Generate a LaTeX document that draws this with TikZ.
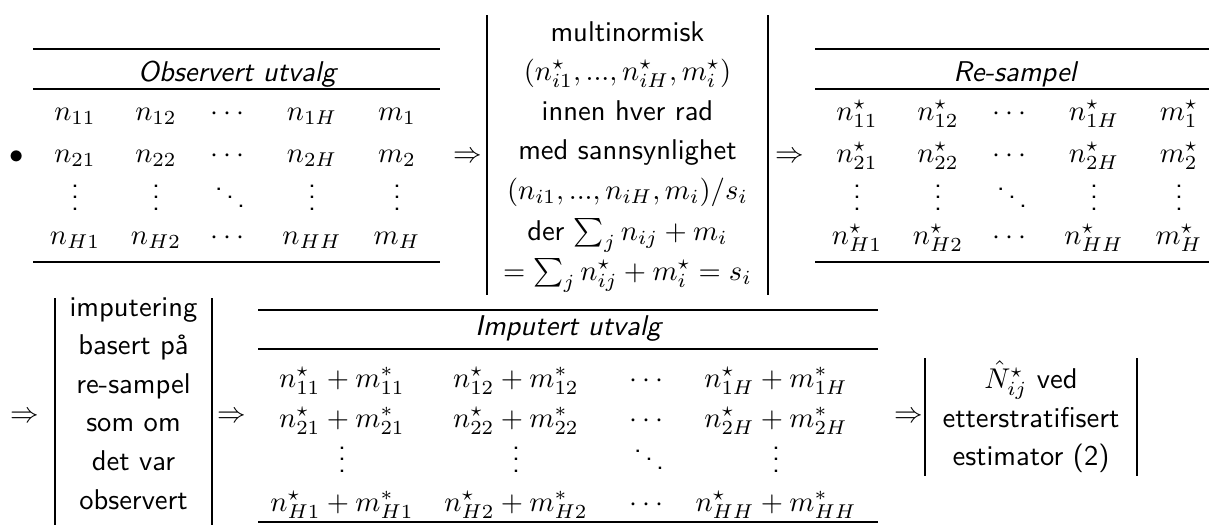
\documentclass[tikz,border=0pt]{standalone}
\usepackage{amsmath}
\begin{document}
\begin{tikzpicture}[x=0.35pt,y=-0.35pt,
  txt/.style={inner sep=0pt,anchor=base,font=\sffamily},
  hdr/.style={inner sep=0pt,anchor=base,font=\sffamily\itshape},
  sym/.style={inner sep=0pt,anchor=center},
  hrule/.style={line width=0.9pt},
  lbar/.style={line width=0.6pt},
  rbar/.style={line width=0.95pt}]
\useasboundingbox (0,0) rectangle (1209,525);

% ---------- top row ----------
\node[sym] (bul) at (17,157) {$\bullet$};

% table 1
\draw[hrule] (33,49) -- (440,49);
\draw[hrule] (33,89) -- (440,89);
\draw[hrule] (33,262) -- (440,262);
\node[hdr] (t1h) at (237,81) {Observert utvalg};
\node[txt] (a11) at (75,120) {$n_{11}$};
\node[txt] (a12) at (156,120) {$n_{12}$};
\node[txt] (a13) at (230,120) {$\cdots$};
\node[txt] (a14) at (312,120) {$n_{1H}$};
\node[txt] (a15) at (397,120) {$m_1$};
\node[txt] (a21) at (75,162) {$n_{21}$};
\node[txt] (a22) at (156,162) {$n_{22}$};
\node[txt] (a23) at (230,162) {$\cdots$};
\node[txt] (a24) at (312,162) {$n_{2H}$};
\node[txt] (a25) at (397,162) {$m_2$};
\node[txt] (a31) at (75,210) {$\vdots$};
\node[txt] (a32) at (156,210) {$\vdots$};
\node[txt] (a33) at (230,210) {$\ddots$};
\node[txt] (a34) at (312,210) {$\vdots$};
\node[txt] (a35) at (397,210) {$\vdots$};
\node[txt] (a41) at (75,244) {$n_{H1}$};
\node[txt] (a42) at (156,244) {$n_{H2}$};
\node[txt] (a43) at (230,244) {$\cdots$};
\node[txt] (a44) at (312,244) {$n_{HH}$};
\node[txt] (a45) at (397,244) {$m_H$};

\node[sym] (arr1) at (468,157) {$\Rightarrow$};

% middle box
\draw[lbar] (487,15) -- (487,295);
\draw[rbar] (768,15) -- (768,295);
\node[txt] (m1) at (627.5,41) {multinormisk};
\node[txt] (m2) at (627.5,80) {$(n^\star_{i1},...,n^\star_{iH},m^\star_i)$};
\node[txt] (m3) at (627.5,120) {innen hver rad};
\node[txt] (m4) at (627.5,159) {med sannsynlighet};
\node[txt] (m5) at (627.5,199) {$(n_{i1},...,n_{iH},m_i)/s_i$};
\node[txt] (m6) at (627.5,240) {der $\sum_j n_{ij}+m_i$};
\node[txt] (m7) at (627.5,280) {$=\sum_j n^\star_{ij}+m^\star_i=s_i$};

\node[sym] (arr2) at (790,157) {$\Rightarrow$};

% table 2
\draw[hrule] (815,49) -- (1209,49);
\draw[hrule] (815,89) -- (1209,89);
\draw[hrule] (815,262) -- (1209,262);
\node[hdr] (t2h) at (1015,81) {Re-sampel};
\node[txt] (b11) at (857,120) {$n^\star_{11}$};
\node[txt] (b12) at (938,120) {$n^\star_{12}$};
\node[txt] (b13) at (1012,120) {$\cdots$};
\node[txt] (b14) at (1094,120) {$n^\star_{1H}$};
\node[txt] (b15) at (1179,120) {$m^\star_1$};
\node[txt] (b21) at (857,162) {$n^\star_{21}$};
\node[txt] (b22) at (938,162) {$n^\star_{22}$};
\node[txt] (b23) at (1012,162) {$\cdots$};
\node[txt] (b24) at (1094,162) {$n^\star_{2H}$};
\node[txt] (b25) at (1179,162) {$m^\star_2$};
\node[txt] (b31) at (857,210) {$\vdots$};
\node[txt] (b32) at (938,210) {$\vdots$};
\node[txt] (b33) at (1012,210) {$\ddots$};
\node[txt] (b34) at (1094,210) {$\vdots$};
\node[txt] (b35) at (1179,210) {$\vdots$};
\node[txt] (b41) at (857,244) {$n^\star_{H1}$};
\node[txt] (b42) at (938,244) {$n^\star_{H2}$};
\node[txt] (b43) at (1012,244) {$\cdots$};
\node[txt] (b44) at (1094,244) {$n^\star_{HH}$};
\node[txt] (b45) at (1179,244) {$m^\star_H$};

% ---------- bottom row ----------
\node[sym] (arr3) at (25,417) {$\Rightarrow$};
\draw[lbar] (55,298) -- (55,525);
\draw[rbar] (212,298) -- (212,525);
\node[txt] (i1) at (133.5,316) {imputering};
\node[txt] (i2) at (133.5,354) {basert på};
\node[txt] (i3) at (133.5,393) {re-sampel};
\node[txt] (i4) at (133.5,431) {som om};
\node[txt] (i5) at (133.5,470) {det var};
\node[txt] (i6) at (133.5,509) {observert};

\node[sym] (arr4) at (232,417) {$\Rightarrow$};

% table 3
\draw[hrule] (258,310) -- (878,310);
\draw[hrule] (258,349) -- (878,349);
\draw[hrule] (258,522) -- (878,522);
\node[hdr] (t3h) at (568,335) {Imputert utvalg};
\node[txt] (c11) at (342,387) {$n^\star_{11}+m^*_{11}$};
\node[txt] (c12) at (516,387) {$n^\star_{12}+m^*_{12}$};
\node[txt] (c13) at (649,387) {$\cdots$};
\node[txt] (c14) at (776,387) {$n^\star_{1H}+m^*_{1H}$};
\node[txt] (c21) at (342,427) {$n^\star_{21}+m^*_{21}$};
\node[txt] (c22) at (516,427) {$n^\star_{22}+m^*_{22}$};
\node[txt] (c23) at (649,427) {$\cdots$};
\node[txt] (c24) at (776,427) {$n^\star_{2H}+m^*_{2H}$};
\node[txt] (c31) at (342,472) {$\vdots$};
\node[txt] (c32) at (516,472) {$\vdots$};
\node[txt] (c33) at (649,472) {$\ddots$};
\node[txt] (c34) at (776,472) {$\vdots$};
\node[txt] (c41) at (342,511) {$n^\star_{H1}+m^*_{H1}$};
\node[txt] (c42) at (516,511) {$n^\star_{H2}+m^*_{H2}$};
\node[txt] (c43) at (649,511) {$\cdots$};
\node[txt] (c44) at (776,511) {$n^\star_{HH}+m^*_{HH}$};

\node[sym] (arr5) at (909,417) {$\Rightarrow$};
\draw[lbar] (925,358) -- (925,476);
\draw[rbar] (1137,358) -- (1137,476);
\node[txt] (e1) at (1031,388) {$\hat N^\star_{ij}$ ved};
\node[txt] (e2) at (1031,427) {etterstratifisert};
\node[txt] (e3) at (1031,465) {estimator (2)};
\end{tikzpicture}
\end{document}
